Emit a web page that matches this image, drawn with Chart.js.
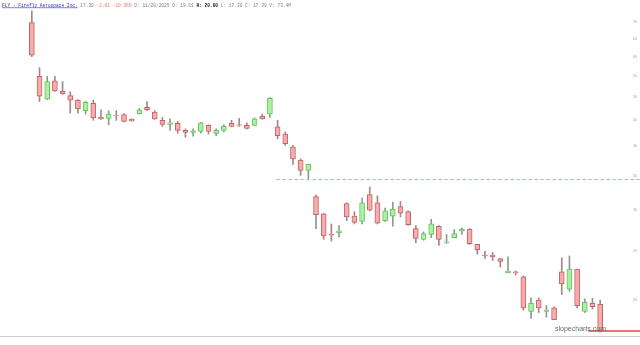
<!DOCTYPE html>
<html>
<head>
<meta charset="utf-8">
<script src="https://cdn.jsdelivr.net/npm/chart.js@4.4.1/dist/chart.umd.min.js"></script>
<style>
html,body{margin:0;padding:0;background:#fff;}
canvas{display:block;}
</style>
</head>
<body>
<canvas id="c" width="640" height="345"></canvas>
<script>
// ---- data ----
const dates = [
 'Aug 7','Aug 8','Aug 11','Aug 12','Aug 13','Aug 14','Aug 15','Aug 18','Aug 19','Aug 20','Aug 21','Aug 22','Aug 25','Aug 26','Aug 27','Aug 28','Aug 29',
 'Sep 2','Sep 3','Sep 4','Sep 5','Sep 8','Sep 9','Sep 10','Sep 11','Sep 12','Sep 15','Sep 16','Sep 17','Sep 18','Sep 19','Sep 22','Sep 23','Sep 24','Sep 25','Sep 26','Sep 29','Sep 30',
 'Oct 1','Oct 2','Oct 3','Oct 6','Oct 7','Oct 8','Oct 9','Oct 10','Oct 13','Oct 14','Oct 15','Oct 16','Oct 17','Oct 20','Oct 21','Oct 22','Oct 23','Oct 24','Oct 27','Oct 28','Oct 29','Oct 30','Oct 31',
 'Nov 3','Nov 4','Nov 5','Nov 6','Nov 7','Nov 10','Nov 11','Nov 12','Nov 13','Nov 14','Nov 17','Nov 18','Nov 19','Nov 20'
];
const opens  = [70.0,54.9,49.5,53.8,51.3,50.3,49.3,47.0,48.6,45.6,45.4,46.1,46.2,45.2,46.4,47.7,46.7,45.0,44.2,44.4,
                43.0,42.6,42.8,44.0,42.4,43.0,44.4,44.1,44.0,44.0,45.8,46.3,43.7,42.3,39.9,37.6,35.9,31.9,29.5,26.9,
                27.1,30.9,29.2,28.5,32.2,31.0,28.6,29.2,30.5,29.8,27.6,26.3,26.9,27.9,25.9,26.5,27.3,27.5,25.7,24.5,
                24.5,24.1,22.6,22.7,22.2,19.0,20.0,19.0,19.3,22.7,21.0,23.0,19.0,19.7,19.61];
const highs  = [73.8,57.1,54.9,54.9,53.6,51.2,49.4,49.0,49.3,47.2,47.0,47.0,46.4,45.3,47.5,49.0,47.0,45.6,45.3,44.8,
                43.3,43.3,44.6,44.1,43.3,44.1,45.0,45.4,44.5,45.5,46.3,49.9,45.0,42.7,40.2,37.8,36.9,32.1,29.6,28.2,
                28.0,31.0,29.8,31.7,33.3,32.0,30.3,31.1,31.2,29.9,28.0,27.2,28.8,28.0,26.9,27.5,27.7,27.6,25.7,24.9,
                24.8,24.1,24.3,22.8,22.3,20.2,20.2,19.5,19.4,24.2,24.4,23.0,20.1,20.15,20.0];
const lows   = [60.0,49.0,49.4,51.3,50.6,46.5,46.5,46.3,45.0,45.2,44.1,45.0,44.7,44.8,46.3,47.0,45.2,43.8,43.0,42.5,
                41.7,41.9,42.5,42.3,42.0,42.7,43.7,43.8,43.3,44.0,45.2,45.6,41.4,40.2,36.9,35.1,34.6,27.6,26.3,26.1,
                26.6,28.6,28.2,28.2,29.9,28.2,28.5,27.9,29.1,28.0,25.9,26.2,26.5,25.6,25.8,26.5,26.9,25.7,24.6,24.1,
                23.9,23.2,22.6,22.4,19.1,18.4,18.9,18.5,18.3,20.5,20.8,19.3,18.9,19.2,17.30];
const closes = [60.4,50.2,53.6,51.4,50.7,49.3,47.4,48.8,45.5,45.3,46.3,46.0,44.8,44.9,47.2,47.2,45.3,44.2,44.5,43.0,
                42.6,42.9,44.5,42.8,43.0,43.8,43.8,44.0,43.4,45.3,45.3,49.7,42.0,40.5,37.8,35.9,36.9,29.4,26.7,26.8,
                27.3,29.1,28.4,31.0,30.0,28.3,29.9,30.1,29.6,28.1,26.4,27.0,28.2,26.3,26.0,27.0,27.5,25.8,25.1,24.4,
                24.3,23.8,22.8,22.6,19.3,19.7,19.3,19.1,18.3,21.5,23.0,19.5,19.8,19.4,17.39];
const xTickIndices = [0, 20, 41, 63];
const xTickLabels = ['Aug 7', 'Sep 5', 'Oct 6', 'Nov 5'];
const yTickValues = [20, 25, 30, 35, 40, 45, 50, 55, 60, 65, 70];
const gapLevel = 34.6;
const gapStartIndex = 32;
const headerName = 'FLY - Firefly Aerospace Inc.';
const headerLast = '17.39';
const headerChange = '-2.01 -10.36%';
const headerInfo1 = 'D: 11/20/2025 O: 19.61 ';
const headerHigh = 'H: 20.00';
const headerInfo2 = ' L: 17.30 C: 17.39 V: 73.4M';

// ---- styling ----
const upFill = '#a8f2a0', upLine = '#6cc064';
const dnFill = '#f6acac', dnLine = '#c46464';
const isUp = closes.map((c, i) => c >= opens[i]);

const overlay = {
  id: 'overlay',
  afterDraw(chart) {
    const ctx = chart.ctx;
    const xs = chart.scales.x, ys = chart.scales.y;
    ctx.save();
    ctx.globalAlpha = 1;
    // bottom axis line
    ctx.strokeStyle = '#cccccc';
    ctx.lineWidth = 1;
    ctx.beginPath();
    ctx.moveTo(0, chart.chartArea.bottom + 0.5);
    ctx.lineTo(640, chart.chartArea.bottom + 0.5);
    ctx.stroke();
    // gap dashed line
    const gy = Math.round(ys.getPixelForValue(gapLevel)) + 0.5;
    ctx.strokeStyle = 'rgb(242, 150, 150)';
    ctx.lineWidth = 1;
    ctx.setLineDash([3, 3]);
    ctx.beginPath();
    ctx.moveTo(xs.getPixelForValue(gapStartIndex) - 1, gy);
    ctx.lineTo(640, gy);
    ctx.stroke();
    ctx.setLineDash([]);
    // last price line
    const last = closes[closes.length - 1];
    const py = Math.round(ys.getPixelForValue(last));
    ctx.strokeStyle = 'rgb(230, 70, 70)';
    ctx.lineWidth = 1.5;
    ctx.beginPath();
    ctx.moveTo(xs.getPixelForValue(closes.length - 2) - 4, py);
    ctx.lineTo(640, py);
    ctx.stroke();
    // watermark
    ctx.fillStyle = '#6a6a6a';
    ctx.font = '7px "Liberation Sans", Arial, sans-serif';
    ctx.textBaseline = 'alphabetic';
    ctx.textAlign = 'left';
    ctx.fillText('slopecharts.com', 555, 331);
    // header
    const segs = [
      {t: headerName, c: '#2a2acc', u: true},
      {t: ' ' + headerLast + ' ', c: '#808080'},
      {t: headerChange, c: '#ee7070'},
      {t: ' ' + headerInfo1, c: '#808080'},
      {t: headerHigh, c: '#222222', b: true},
      {t: headerInfo2, c: '#808080'}
    ];
    let x = 2;
    const base = 6.5;
    segs.forEach(s => {
      ctx.font = (s.b ? 'bold ' : '') + '4.5px "Liberation Mono", "DejaVu Sans Mono", monospace';
      ctx.fillStyle = s.c;
      ctx.fillText(s.t, x, base);
      const w = ctx.measureText(s.t).width;
      if (s.u) {
        ctx.strokeStyle = s.c;
        ctx.lineWidth = 0.6;
        ctx.beginPath();
        ctx.moveTo(x, base + 1.2);
        ctx.lineTo(x + w, base + 1.2);
        ctx.stroke();
      }
      x += w;
    });
    ctx.restore();
  }
};

new Chart(document.getElementById('c'), {
  type: 'bar',
  data: {
    labels: dates,
    datasets: [
      {
        label: 'wick',
        data: lows.map((l, i) => [l, highs[i]]),
        backgroundColor: isUp.map(u => u ? '#8f9a8f' : '#a08a8a'),
        barThickness: 1,
        grouped: false,
        order: 2
      },
      {
        label: 'body',
        data: opens.map((o, i) => [o, closes[i]]),
        backgroundColor: isUp.map(u => u ? upFill : dnFill),
        borderColor: isUp.map(u => u ? upLine : dnLine),
        borderWidth: 1,
        borderSkipped: false,
        barThickness: 5,
        grouped: false,
        order: 1
      }
    ]
  },
  options: {
    responsive: false,
    animation: false,
    devicePixelRatio: 1,
    layout: {padding: {left: 28, right: 0, top: 0, bottom: 0}},
    plugins: {legend: {display: false}, tooltip: {enabled: false}},
    scales: {
      x: {
        type: 'category',
        offset: true,
        grid: {display: false},
        border: {display: false},
        ticks: {
          autoSkip: false,
          maxRotation: 0,
          padding: 1,
          color: '#999',
          font: {size: 4, family: 'Liberation Sans'},
          callback: (v, i) => {
            const k = xTickIndices.indexOf(i);
            return k >= 0 ? xTickLabels[k] : '';
          }
        },
        afterFit: s => { s.height = 9; }
      },
      y: {
        type: 'logarithmic',
        position: 'right',
        min: 17,
        max: 76.4,
        grid: {display: true, drawOnChartArea: false, drawTicks: true, tickLength: 28, color: 'rgba(0,0,0,0)'},
        border: {display: false},
        afterBuildTicks: s => { s.ticks = yTickValues.map(v => ({value: v})); },
        ticks: {
          padding: 1,
          color: '#999',
          font: {size: 3.5, family: 'Liberation Sans'},
          callback: v => String(v)
        },
        afterFit: s => { s.width = 36; }
      }
    }
  },
  plugins: [overlay]
});
</script>
</body>
</html>
